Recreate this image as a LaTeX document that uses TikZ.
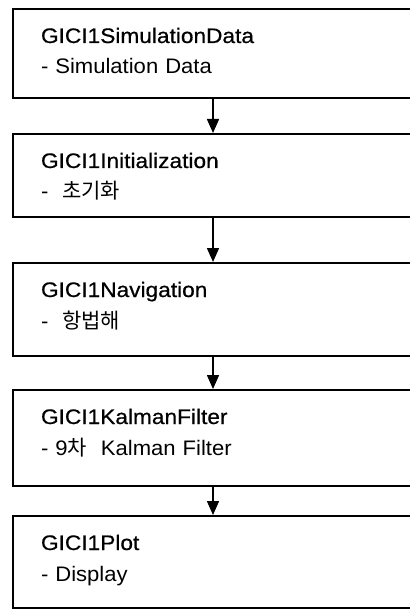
\documentclass[tikz,border=0pt]{standalone}
\usepackage{fontspec}
\setmainfont{Liberation Sans}[FakeStretch=1.05]
\newfontfamily\titlefont{Liberation Sans}[FakeStretch=1.08,FakeBold=0.6]
\newfontfamily\kr{Noto Sans CJK KR}
\usetikzlibrary{arrows.meta}
\tikzset{
  stage/.style = {
    draw, line width=2pt, anchor=north west,
    minimum width=400pt, text width=344pt, inner xsep=28pt, inner ysep=0pt,
    text height=34pt, align=left, font=\fontsize{21pt}{31pt}\selectfont
  },
  flow/.style = {-{Triangle[length=14pt,width=12pt]}, line width=1.5pt}
}

\begin{document}
\begin{tikzpicture}[x=1pt,y=-1pt]
  \useasboundingbox (0,0) rectangle (409,609);
  % modules
  \node[stage,text depth=55pt] (simdata) at (12,8)
    {{\titlefont GICI1SimulationData}\\- Simulation Data};
  \node[stage,text depth=49pt] (init) at (12,133)
    {{\titlefont GICI1Initialization}\\-\ \ {\kr 초기화}};
  \node[stage,text depth=59pt] (nav) at (12,262)
    {{\titlefont GICI1Navigation}\\-\ \ {\kr 항법해}};
  \node[stage,text depth=62pt] (kalman) at (12,389)
    {{\titlefont GICI1KalmanFilter}\\- 9{\kr 차}\ \ Kalman Filter};
  \node[stage,text depth=58pt] (plot) at (12,515)
    {{\titlefont GICI1Plot}\\- Display};
  % flow
  \draw[flow] (simdata) -- (init);
  \draw[flow] (init) -- (nav);
  \draw[flow] (nav) -- (kalman);
  \draw[flow] (kalman) -- (plot);
\end{tikzpicture}
\end{document}
